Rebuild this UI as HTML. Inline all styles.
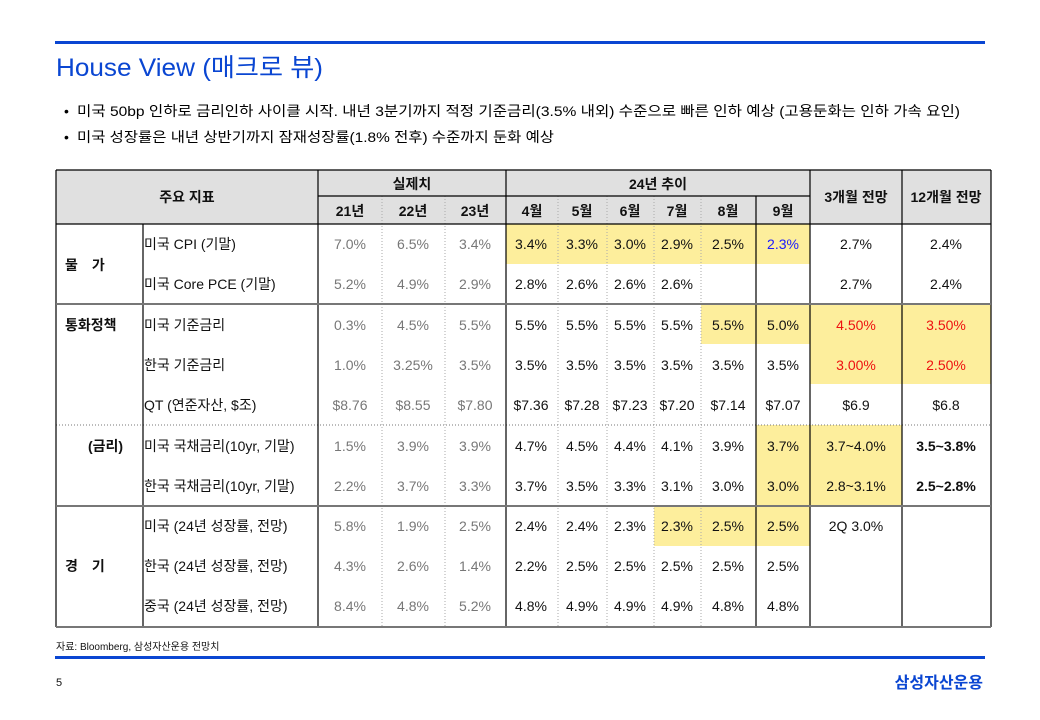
<!DOCTYPE html>
<html><head><meta charset="utf-8"><style>
body{margin:0;background:#fff;}
svg{display:block;font-family:"Liberation Sans","Noto Sans CJK KR",sans-serif;}
</style></head><body>
<svg width="1040" height="720" viewBox="0 0 1040 720" xmlns="http://www.w3.org/2000/svg">
<rect x="55" y="41" width="930" height="3" fill="#0a46d2"/>
<text x="56" y="76" font-size="25" fill="#0a46d2" textLength="267" lengthAdjust="spacingAndGlyphs">House View (매크로 뷰)</text>
<text x="64" y="116" font-size="14" fill="#000">•</text>
<text x="77" y="116" font-size="14" fill="#000" textLength="883" lengthAdjust="spacingAndGlyphs">미국 50bp 인하로 금리인하 사이클 시작. 내년 3분기까지 적정 기준금리(3.5% 내외) 수준으로 빠른 인하 예상 (고용둔화는 인하 가속 요인)</text>
<text x="64" y="142" font-size="14" fill="#000">•</text>
<text x="77" y="142" font-size="14" fill="#000" textLength="477" lengthAdjust="spacingAndGlyphs">미국 성장률은 내년 상반기까지 잠재성장률(1.8% 전후) 수준까지 둔화 예상</text>

<!-- header bg -->
<rect x="56" y="170" width="935" height="54" fill="#e0e0e0"/>
<!-- yellow -->
<g fill="#fdee9c">
<rect x="506" y="224" width="304" height="40"/>
<rect x="701" y="304" width="290" height="40"/>
<rect x="810" y="344" width="181" height="40"/>
<rect x="756" y="425" width="146" height="81"/>
<rect x="654" y="506" width="156" height="40"/>
</g>
<!-- dotted verticals -->
<g stroke="#aaa" stroke-width="1" stroke-dasharray="1,2">
<line x1="382" y1="196" x2="382" y2="627"/><line x1="445" y1="196" x2="445" y2="627"/>
<line x1="558" y1="196" x2="558" y2="627"/><line x1="607" y1="196" x2="607" y2="627"/>
<line x1="654" y1="196" x2="654" y2="627"/><line x1="701" y1="196" x2="701" y2="627"/>
<line x1="56" y1="425" x2="991" y2="425" stroke="#777"/>
</g>
<!-- solid lines -->
<g stroke="#000" stroke-width="1.2">
<line x1="56" y1="170" x2="991" y2="170"/>
<line x1="318" y1="196" x2="810" y2="196"/>
<line x1="56" y1="224" x2="991" y2="224"/>
<line x1="56" y1="170" x2="56" y2="627"/>
<line x1="991" y1="170" x2="991" y2="627"/>
<line x1="143" y1="224" x2="143" y2="627"/>
<line x1="318" y1="170" x2="318" y2="627"/>
<line x1="506" y1="170" x2="506" y2="627"/>
<line x1="756" y1="196" x2="756" y2="627"/>
<line x1="810" y1="170" x2="810" y2="627"/>
<line x1="902" y1="170" x2="902" y2="627"/>
</g>
<g stroke="#777" stroke-width="2">
<line x1="56" y1="304" x2="991" y2="304"/>
<line x1="56" y1="506" x2="991" y2="506"/>
<line x1="56" y1="627" x2="991" y2="627"/>
</g>

<!-- header text -->
<g font-size="14" font-weight="bold" text-anchor="middle" fill="#111">
<text x="187" y="202">주요 지표</text>
<text x="412" y="189">실제치</text>
<text x="658" y="189">24년 추이</text>
<text x="856" y="202">3개월 전망</text>
<text x="946" y="202">12개월 전망</text>
<text x="350" y="216">21년</text><text x="413" y="216">22년</text><text x="475" y="216">23년</text>
<text x="532" y="216">4월</text><text x="582" y="216">5월</text><text x="630" y="216">6월</text>
<text x="677" y="216">7월</text><text x="728" y="216">8월</text><text x="783" y="216">9월</text>
</g>
<!-- category -->
<g font-size="14" font-weight="bold" fill="#111">
<text x="65" y="270">물　가</text>
<text x="65" y="330">통화정책</text>
<text x="88" y="451">(금리)</text>
<text x="65" y="571">경　기</text>
</g>
<!-- names -->
<g font-size="14" fill="#111">
<text x="144" y="249">미국 CPI (기말)</text>
<text x="144" y="289">미국 Core PCE (기말)</text>
<text x="144" y="330">미국 기준금리</text>
<text x="144" y="370">한국 기준금리</text>
<text x="144" y="410">QT (연준자산, $조)</text>
<text x="144" y="451">미국 국채금리(10yr, 기말)</text>
<text x="144" y="491">한국 국채금리(10yr, 기말)</text>
<text x="144" y="531">미국 (24년 성장률, 전망)</text>
<text x="144" y="571">한국 (24년 성장률, 전망)</text>
<text x="144" y="611">중국 (24년 성장률, 전망)</text>
</g>
<!-- actual values grey -->
<g font-size="14" fill="#777" text-anchor="middle">
<text x="350" y="249">7.0%</text><text x="413" y="249">6.5%</text><text x="475" y="249">3.4%</text>
<text x="350" y="289">5.2%</text><text x="413" y="289">4.9%</text><text x="475" y="289">2.9%</text>
<text x="350" y="330">0.3%</text><text x="413" y="330">4.5%</text><text x="475" y="330">5.5%</text>
<text x="350" y="370">1.0%</text><text x="413" y="370">3.25%</text><text x="475" y="370">3.5%</text>
<text x="350" y="410">$8.76</text><text x="413" y="410">$8.55</text><text x="475" y="410">$7.80</text>
<text x="350" y="451">1.5%</text><text x="413" y="451">3.9%</text><text x="475" y="451">3.9%</text>
<text x="350" y="491">2.2%</text><text x="413" y="491">3.7%</text><text x="475" y="491">3.3%</text>
<text x="350" y="531">5.8%</text><text x="413" y="531">1.9%</text><text x="475" y="531">2.5%</text>
<text x="350" y="571">4.3%</text><text x="413" y="571">2.6%</text><text x="475" y="571">1.4%</text>
<text x="350" y="611">8.4%</text><text x="413" y="611">4.8%</text><text x="475" y="611">5.2%</text>
</g>
<!-- monthly -->
<g font-size="14" fill="#111" text-anchor="middle">
<text x="531" y="249">3.4%</text><text x="582" y="249">3.3%</text><text x="630" y="249">3.0%</text><text x="677" y="249">2.9%</text><text x="728" y="249">2.5%</text><text x="783" y="249" fill="#1a1aff">2.3%</text>
<text x="856" y="249">2.7%</text><text x="946" y="249">2.4%</text>
<text x="531" y="289">2.8%</text><text x="582" y="289">2.6%</text><text x="630" y="289">2.6%</text><text x="677" y="289">2.6%</text>
<text x="856" y="289">2.7%</text><text x="946" y="289">2.4%</text>
<text x="531" y="330">5.5%</text><text x="582" y="330">5.5%</text><text x="630" y="330">5.5%</text><text x="677" y="330">5.5%</text><text x="728" y="330">5.5%</text><text x="783" y="330">5.0%</text>
<text x="856" y="330" fill="#ee1111">4.50%</text><text x="946" y="330" fill="#ee1111">3.50%</text>
<text x="531" y="370">3.5%</text><text x="582" y="370">3.5%</text><text x="630" y="370">3.5%</text><text x="677" y="370">3.5%</text><text x="728" y="370">3.5%</text><text x="783" y="370">3.5%</text>
<text x="856" y="370" fill="#ee1111">3.00%</text><text x="946" y="370" fill="#ee1111">2.50%</text>
<text x="531" y="410">$7.36</text><text x="582" y="410">$7.28</text><text x="630" y="410">$7.23</text><text x="677" y="410">$7.20</text><text x="728" y="410">$7.14</text><text x="783" y="410">$7.07</text>
<text x="856" y="410">$6.9</text><text x="946" y="410">$6.8</text>
<text x="531" y="451">4.7%</text><text x="582" y="451">4.5%</text><text x="630" y="451">4.4%</text><text x="677" y="451">4.1%</text><text x="728" y="451">3.9%</text><text x="783" y="451">3.7%</text>
<text x="856" y="451">3.7~4.0%</text><text x="946" y="451" font-weight="bold">3.5~3.8%</text>
<text x="531" y="491">3.7%</text><text x="582" y="491">3.5%</text><text x="630" y="491">3.3%</text><text x="677" y="491">3.1%</text><text x="728" y="491">3.0%</text><text x="783" y="491">3.0%</text>
<text x="856" y="491">2.8~3.1%</text><text x="946" y="491" font-weight="bold">2.5~2.8%</text>
<text x="531" y="531">2.4%</text><text x="582" y="531">2.4%</text><text x="630" y="531">2.3%</text><text x="677" y="531">2.3%</text><text x="728" y="531">2.5%</text><text x="783" y="531">2.5%</text>
<text x="856" y="531">2Q 3.0%</text>
<text x="531" y="571">2.2%</text><text x="582" y="571">2.5%</text><text x="630" y="571">2.5%</text><text x="677" y="571">2.5%</text><text x="728" y="571">2.5%</text><text x="783" y="571">2.5%</text>
<text x="531" y="611">4.8%</text><text x="582" y="611">4.9%</text><text x="630" y="611">4.9%</text><text x="677" y="611">4.9%</text><text x="728" y="611">4.8%</text><text x="783" y="611">4.8%</text>
</g>

<text x="56" y="650" font-size="10" fill="#111">자료: Bloomberg, 삼성자산운용 전망치</text>
<rect x="55" y="656" width="930" height="3" fill="#0a46d2"/>
<text x="56" y="686" font-size="11" fill="#111">5</text>
<text x="983" y="688" font-size="16" font-weight="bold" fill="#0a46d2" text-anchor="end">삼성자산운용</text>
</svg>
</body></html>
